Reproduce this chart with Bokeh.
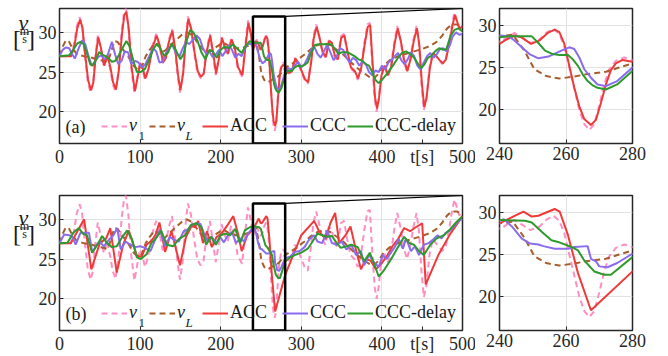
from bokeh.plotting import figure
from bokeh.models import Range1d, FixedTicker, Label, Legend, LegendItem, LinearAxis
from bokeh.layouts import column, row
from bokeh.embed import file_html
from bokeh.resources import INLINE

FONT = "Liberation Serif"
C_V1 = "#ff8ec3"
C_VL = "#a85e2c"
C_ACC = "#f03a3a"
C_CCC = "#8a6cee"
C_CCCD = "#2e9a2e"
TXT = "#1a1a1a"

MAIN_X = (0, 500)
MAIN_Y = (16, 33)
ZOOM_X = (240, 280)
ZOOM_Y = (16, 32)
MAIN_XTICKS = [0, 100, 200, 300, 400, 500]
ZOOM_XTICKS = [240, 260, 280]
YTICKS = [20, 25, 30]
XLABEL_AT = 450
XLABEL = "t[s]"
LABELS = ["v", "v", "ACC", "CCC", "CCC-delay"]
SUBS = ["1", "L"]
PANEL_TAGS = ["(a)", "(b)"]

V1 = [(0, 27.0), (14, 27.0), (18, 28.5), (21.5, 30.8), (25, 31.9), (28, 30.8), (31, 27.5), (35, 23.8),
      (38.5, 22.4), (41.5, 23.5), (44.5, 27.0), (47.5, 29.6), (51, 28.0), (55, 25.7), (59, 27.2), (63, 25.3),
      (66, 23.5), (69.5, 22.5), (73, 25.0), (77, 30.0), (80, 32.5), (82.5, 33.0), (85.5, 30.5), (89, 25.5),
      (93, 22.3), (96, 24.0), (99.5, 26.2), (102.5, 25.6), (106, 24.0), (110, 25.3), (115, 28.2), (120, 29.8),
      (124, 28.4), (128, 26.1), (131.5, 26.7), (135.5, 29.0), (139.5, 30.4), (143, 28.0), (146.5, 24.5),
      (149.5, 22.4), (153, 24.8), (156, 29.0), (159.3, 32.0), (163, 30.6), (167, 27.5), (171, 25.0), (175, 24.2),
      (178.5, 24.6), (182, 27.5), (186.5, 29.8), (190, 27.5), (193.8, 24.6), (197, 26.5), (201, 29.4), (205, 28.0),
      (208.5, 27.2), (213, 29.2), (217, 28.0), (221, 25.5), (226.5, 24.4), (230, 28.0), (233.8, 31.5), (237, 30.0),
      (240, 28.0), (242, 28.5), (244.5, 29.1), (247, 28.5), (249.3, 27.9), (252, 28.3), (254, 29.1), (256.2, 29.6),
      (258, 29.0), (259.5, 27.5), (261, 25.0), (262.5, 22.5), (264, 20.0), (265.5, 18.3), (267, 17.6), (268.5, 18.3),
      (270, 20.5), (271.5, 23.0), (273, 24.8), (275, 25.8), (277.5, 26.2), (280, 25.9), (284, 24.8), (288, 25.0),
      (292, 26.8), (296, 26.2), (300, 25.0), (304, 24.0), (308, 23.5), (312, 26.5), (315, 29.5), (318.5, 31.0),
      (322, 29.5), (326, 27.5), (330, 26.8), (334, 29.0), (337.5, 28.8), (341, 27.0), (345, 26.5), (349, 29.5),
      (353, 29.8), (357, 27.5), (361, 25.5), (366, 25.0), (370, 24.0), (374, 25.5), (378, 28.5), (382, 31.0),
      (385, 31.2), (388, 26.0), (391, 21.5), (393.5, 20.0), (396, 21.5), (399, 24.5), (403, 25.8), (407, 24.5),
      (411, 25.5), (415, 28.5), (419, 30.8), (423, 29.0), (427, 26.5), (431, 25.0), (435, 26.5), (439, 29.0),
      (443, 30.8), (446, 28.5), (449, 23.5), (452, 20.2), (455, 21.5), (459, 25.5), (463, 27.5), (467, 27.0),
      (471, 26.5), (475, 26.0), (479, 26.5), (483, 28.5), (487, 31.0), (490, 32.5), (493, 31.5), (496, 30.5),
      (500, 31.0)]

VL = [(0, 27.0), (4, 28.2), (8, 29.0), (12, 28.8), (16, 28.0), (22, 27.2), (30, 27.0), (40, 26.8), (50, 26.5),
      (60, 26.3), (64, 27.5), (68, 28.9), (72, 28.8), (76, 28.2), (85, 27.0), (92, 25.8), (97, 25.3), (102, 25.6),
      (107, 27.0), (112, 27.8), (118, 28.6), (124, 28.2), (130, 27.6), (136, 28.2), (144, 29.0), (152, 29.7),
      (158, 30.0), (165, 29.6), (172, 28.6), (180, 27.6), (187, 27.6), (195, 28.2), (203, 28.7), (210, 28.3),
      (218, 28.0), (226, 28.0), (234, 28.3), (240, 28.7), (244, 28.9), (247.5, 27.0), (250.5, 24.8), (254, 24.0),
      (258, 23.7), (262, 23.9), (266, 24.2), (272, 24.5), (276, 25.0), (280, 25.5), (288, 26.0), (296, 26.6),
      (304, 27.2), (312, 27.9), (320, 28.4), (328, 28.6), (336, 28.4), (344, 27.8), (352, 27.2), (360, 26.4),
      (368, 25.6), (376, 25.0), (384, 24.4), (390, 24.2), (396, 24.8), (402, 25.8), (410, 26.5), (420, 27.0),
      (430, 27.3), (440, 27.6), (450, 27.9), (460, 28.3), (468, 28.8), (475, 29.6), (481, 30.5), (487, 31.0),
      (493, 31.0), (500, 30.6)]

ACC_A = [(0, 27.0), (14.5, 27.0), (18.5, 28.3), (22, 30.5), (25.5, 31.6), (28.5, 30.6), (31.5, 27.5), (35.5, 24.0),
         (39, 22.7), (42, 23.7), (45, 27.0), (48, 29.4), (51.5, 28.0), (55.5, 25.8), (59.5, 27.1), (63.5, 25.4),
         (66.5, 23.7), (70, 22.8), (73.5, 25.1), (77.5, 29.8), (80.5, 32.2), (83, 32.6), (86, 30.4), (89.5, 25.6),
         (93.5, 22.6), (96.5, 24.1), (100, 26.1), (103, 25.6), (106.5, 24.2), (110.5, 25.4), (115.5, 28.1),
         (120.5, 29.6), (124.5, 28.3), (128.5, 26.2), (132, 26.8), (136, 28.9), (140, 30.2), (143.5, 28.0),
         (147, 24.7), (150, 22.7), (153.5, 24.9), (156.5, 28.9), (159.8, 31.7), (163.5, 30.4), (167.5, 27.5),
         (171.5, 25.1), (175.5, 24.4), (179, 24.8), (182.5, 27.5), (187, 29.6), (190.5, 27.5), (194.3, 24.8),
         (197.5, 26.5), (201.5, 29.3), (205.5, 28.0), (209, 27.3), (213.5, 29.1), (217.5, 28.0), (221.5, 25.6),
         (227, 24.6), (230.5, 28.0), (234.3, 31.2), (237.5, 29.8), (240, 27.8), (242, 28.3), (244.5, 28.8),
         (246.5, 28.6), (249.5, 27.8), (252, 28.2), (254.5, 29.1), (256.6, 29.5), (258, 29.2), (259.5, 27.8),
         (261, 25.2), (262.5, 22.6), (264, 20.4), (265.5, 18.9), (267.5, 18.2), (269, 18.8), (270.5, 20.8),
         (272, 23.0), (273.5, 24.7), (275, 25.5), (277, 25.9), (280, 25.7), (284.5, 24.9), (288.5, 25.1),
         (292.5, 26.7), (296.5, 26.1), (300.5, 25.1), (304.5, 24.1), (308.5, 23.7), (312.5, 26.4), (315.5, 29.3),
         (319, 30.7), (322.5, 29.4), (326.5, 27.5), (330.5, 26.9), (334.5, 28.9), (338, 28.7), (341.5, 27.1),
         (345.5, 26.6), (349.5, 29.3), (353.5, 29.6), (357.5, 27.5), (361.5, 25.6), (366.5, 25.1), (370.5, 24.2),
         (374.5, 25.6), (378.5, 28.4), (382.5, 30.7), (385.5, 30.9), (388.5, 26.1), (391.5, 21.8), (394, 20.4),
         (396.5, 21.8), (399.5, 24.6), (403.5, 25.8), (407.5, 24.6), (411.5, 25.6), (415.5, 28.4), (419.5, 30.5),
         (423.5, 28.9), (427.5, 26.6), (431.5, 25.1), (435.5, 26.6), (439.5, 28.9), (443.5, 30.5), (446.5, 28.4),
         (449.5, 23.7), (452.5, 20.6), (455.5, 21.8), (459.5, 25.5), (463.5, 27.4), (467.5, 27.0), (471.5, 26.5),
         (475.5, 26.1), (479.5, 26.6), (483.5, 28.5), (487.5, 30.8), (490.5, 32.2), (493.5, 31.3), (496.5, 30.4),
         (500, 30.8)]

CCC_A = [(0, 27.0), (4, 27.8), (8, 28.1), (12, 28.0), (16, 27.2), (19, 26.7), (23, 27.8), (28, 29.0), (32, 28.5),
         (36, 27.0), (40, 25.8), (44, 26.3), (48, 26.9), (52, 27.1), (56, 26.6), (60, 27.2), (65, 28.8), (69, 27.2),
         (73, 26.0), (77, 26.4), (81, 27.6), (85, 27.5), (89, 26.0), (94, 26.4), (98, 26.2), (102, 25.6), (106, 25.9),
         (111, 26.9), (116, 28.0), (120, 27.6), (124, 26.2), (128, 26.3), (132, 27.4), (136, 28.0), (140, 28.4),
         (145, 27.3), (149, 27.0), (153, 28.0), (157, 28.8), (161, 28.5), (165, 29.0), (170, 29.6), (174, 29.2),
         (178, 28.0), (182, 27.3), (186, 27.6), (190, 26.9), (194, 27.2), (198, 27.8), (202, 27.0), (206, 27.6),
         (210, 28.4), (214, 27.8), (218, 26.8), (222, 27.3), (226, 27.0), (230, 28.0), (234, 28.6), (238, 28.5),
         (240, 28.8), (242.8, 28.7), (244.5, 28.2), (246.7, 27.4), (249, 26.6), (251.7, 26.1), (254.7, 26.3),
         (258.6, 27.0), (261, 27.4), (262.5, 27.2), (264, 26.2), (265.5, 24.8), (267.5, 23.8), (269.5, 23.0),
         (272, 22.8), (275.4, 23.4), (280, 25.0), (284, 25.5), (288, 25.3), (292, 25.8), (296, 26.3), (300, 25.6),
         (304, 26.0), (308, 26.8), (312, 27.8), (316, 28.2), (320, 27.3), (324, 26.8), (328, 27.6), (332, 28.4),
         (336, 27.5), (340, 26.5), (344, 27.0), (348, 28.0), (352, 27.8), (356, 26.8), (360, 26.2), (364, 26.8),
         (368, 26.5), (372, 25.8), (376, 26.3), (380, 26.0), (384, 25.0), (388, 24.6), (392, 25.2), (396, 25.0),
         (400, 25.8), (404, 25.3), (408, 26.2), (412, 26.5), (416, 27.0), (420, 27.4), (424, 26.5), (428, 26.0),
         (432, 26.6), (436, 27.5), (440, 27.0), (444, 25.8), (448, 25.3), (452, 26.2), (456, 27.0), (460, 27.4),
         (464, 26.8), (468, 27.2), (472, 27.9), (476, 28.0), (480, 27.6), (484, 28.3), (488, 29.5), (492, 30.0),
         (496, 29.7), (500, 29.8)]

CCCD_A = [(0, 27.0), (12, 27.1), (17, 27.8), (22, 28.6), (26, 28.8), (30, 28.5), (34, 27.4), (38, 26.0), (41, 25.8),
          (45, 26.5), (49, 27.5), (53, 27.2), (57, 27.0), (61, 26.7), (65, 26.3), (69, 26.4), (73, 27.0), (78, 28.0),
          (83, 28.9), (87, 28.2), (92, 26.3), (96, 25.0), (101, 25.0), (106, 25.4), (111, 26.5), (116, 27.8),
          (121, 28.6), (125, 28.0), (130, 27.0), (135, 27.5), (139, 28.6), (144, 27.8), (150, 26.6), (154, 27.3),
          (158, 29.0), (162, 30.3), (166, 30.0), (171, 29.0), (176, 27.5), (181, 26.6), (186, 27.8), (190, 27.6),
          (195, 26.8), (200, 27.8), (205, 28.2), (210, 28.0), (215, 28.5), (220, 28.0), (226, 27.4), (231, 28.3),
          (236, 28.9), (240, 28.6), (243, 28.7), (247, 28.7), (249.7, 28.7), (251.5, 28.0), (253.7, 27.0),
          (256, 26.6), (258, 26.5), (260.6, 26.5), (262, 26.0), (263.6, 25.2), (265, 24.2), (266.5, 23.4),
          (268, 22.9), (269.5, 22.6), (272, 22.4), (275.4, 23.0), (278, 23.9), (280, 24.6), (284, 25.2), (288, 25.1),
          (292, 25.6), (296, 25.8), (300, 25.7), (304, 25.9), (308, 26.2), (312, 27.4), (317, 28.4), (322, 28.5),
          (327, 28.5), (332, 28.5), (337, 28.5), (341, 28.0), (346, 27.3), (351, 27.5), (356, 27.5), (361, 27.3),
          (366, 27.0), (371, 26.6), (376, 26.4), (380, 26.0), (384, 25.8), (388, 25.0), (392, 24.0), (396, 23.6),
          (400, 24.0), (405, 24.6), (410, 25.3), (415, 26.0), (420, 26.8), (425, 27.4), (430, 27.6), (435, 27.3),
          (440, 26.8), (445, 26.0), (449, 25.5), (453, 26.0), (457, 26.8), (461, 27.0), (466, 27.6), (471, 28.0),
          (476, 27.8), (480, 27.9), (485, 29.5), (490, 30.3), (495, 30.5), (500, 30.1)]

ACC_B = [(0, 27.0), (14, 27.0), (30.5, 30.0), (39.5, 23.7), (50, 27.0), (58, 27.6), (63, 28.9), (71, 23.3),
         (79, 26.8), (86, 28.6), (91, 27.0), (96, 25.4), (102, 25.3), (108, 26.8), (114, 27.3), (119, 28.0),
         (124, 29.6), (131, 25.9), (139, 28.5), (149.5, 24.2), (157, 27.8), (164, 29.2), (168, 29.0), (172, 29.8),
         (178, 27.0), (183, 28.5), (189, 26.5), (195, 27.8), (201, 28.2), (208, 29.2), (215.6, 30.4), (222, 28.0),
         (226, 26.0), (233, 28.0), (240, 28.7), (247.2, 30.1), (249.7, 29.5), (251.7, 29.6), (256.6, 30.4),
         (258.1, 30.1), (260.6, 27.3), (263.6, 22.8), (267.5, 18.4), (280, 23.0), (300, 28.0), (316, 29.8),
         (322, 28.5), (330, 27.5), (336, 29.5), (342, 30.8), (347, 27.0), (355, 28.0), (361, 29.1), (367, 26.5),
         (374, 23.7), (380, 25.0), (386, 24.8), (392.6, 23.7), (400, 24.5), (407, 25.5), (413, 26.6), (420, 27.5),
         (427.6, 28.9), (435, 28.5), (442, 29.0), (450, 29.5), (454.4, 21.8), (470, 25.5), (485, 28.2), (500, 30.4)]

CCC_B = [(0, 27.0), (5.8, 28.1), (12, 28.0), (16, 27.8), (20, 26.8), (26, 28.3), (33, 28.3), (36.6, 28.3),
         (40.7, 25.8), (46, 26.8), (50, 27.2), (55, 26.6), (62, 27.5), (67, 28.0), (71.6, 28.9), (76, 26.2),
         (82, 27.2), (88, 26.8), (94, 26.5), (100, 26.6), (106, 26.4), (112.8, 26.0), (119, 27.5), (125, 28.7),
         (131, 26.6), (137, 27.8), (142, 27.4), (148, 27.2), (154, 28.5), (159, 28.7), (164, 29.3), (170, 29.5),
         (175, 29.4), (180, 28.0), (184, 27.2), (189, 27.8), (194, 26.9), (199, 27.8), (204, 27.1), (209, 28.0),
         (214, 28.4), (219, 27.0), (224, 27.6), (229, 27.2), (234, 28.2), (240, 29.0), (241.3, 29.2), (243.8, 28.3),
         (246.7, 26.9), (249.2, 26.3), (251.7, 26.2), (253.2, 26.0), (256.6, 25.7), (260.6, 25.7), (262.6, 25.9),
         (266.5, 26.0), (267.5, 24.5), (269, 24.2), (270, 23.6), (272.5, 23.5), (275.4, 24.0), (280, 25.1),
         (286, 25.3), (292, 25.9), (298, 26.0), (304, 26.5), (310, 27.5), (316, 28.0), (320, 27.2), (326, 27.0),
         (332, 28.6), (338, 27.0), (344, 26.8), (350, 27.2), (356, 26.2), (362, 26.8), (368, 25.5), (374, 26.0),
         (378, 24.2), (384, 25.5), (390, 24.6), (396, 24.0), (401, 25.5), (406, 25.0), (411, 25.8), (416, 26.5),
         (421, 27.5), (426, 26.3), (430, 27.6), (436, 26.0), (441, 26.6), (446, 25.5), (452, 26.8), (458, 27.0),
         (464, 27.5), (469, 28.0), (474, 27.6), (479, 28.3), (485, 28.6), (490, 29.2), (495, 29.8), (500, 30.0)]

CCCD_B = [(0, 27.0), (10, 27.05), (17, 28.3), (24, 28.9), (29, 28.2), (34, 28.0), (40.5, 25.8), (47, 26.8),
          (53, 27.9), (59, 27.0), (65, 26.5), (71, 26.6), (78, 27.8), (84, 28.6), (90, 27.5), (96, 25.2), (101, 25.0),
          (108, 25.6), (114, 27.0), (121, 27.8), (126, 28.6), (133, 26.8), (141, 26.6), (148, 27.5), (156, 28.0),
          (163, 29.3), (170, 29.5), (176, 29.0), (182, 26.8), (188, 27.8), (194, 26.8), (200, 28.0), (206, 28.2),
          (212, 28.0), (218, 28.8), (224, 27.0), (230, 28.6), (236, 29.0), (240, 29.1), (247.7, 29.0), (249.7, 28.8),
          (252.7, 27.7), (255.6, 26.7), (257.6, 26.5), (261.6, 25.9), (263.6, 25.5), (265.5, 24.3), (268.5, 23.0),
          (271.5, 22.6), (273.5, 22.6), (280, 24.7), (286, 25.2), (292, 25.5), (300, 25.8), (308, 26.3), (314, 27.2),
          (320, 28.2), (326, 28.0), (332, 27.8), (338, 27.9), (344, 27.0), (349, 26.4), (356, 26.6), (362, 26.8),
          (370, 26.5), (378, 24.7), (385, 25.8), (390, 24.5), (396, 22.8), (402, 23.5), (411, 24.9), (420, 26.5),
          (427.6, 27.8), (434, 27.0), (440, 26.8), (446, 26.0), (452, 25.5), (460, 26.8), (468, 27.6), (477, 28.0),
          (485, 28.8), (492, 29.6), (500, 30.4)]

# ---------------- layout constants (pixels) ----------------
W_LAB = 35                     # strip holding the y-axis label
W_MAIN, W_ZOOM = 440, 193
L_MAIN, R_MAIN = 22, 13
L_ZOOM, R_ZOOM = 22, 36
ROWS = [dict(h=175, top=8, bottom=32), dict(h=181, top=20, bottom=26)]


def xy(pairs):
    return [a for a, _ in pairs], [b for _, b in pairs]


def style(p, xticks):
    xa, ya = p.below[0], p.left[0]
    xa.ticker = FixedTicker(ticks=xticks)
    ya.ticker = FixedTicker(ticks=YTICKS)
    for ax in (xa, ya):
        ax.major_label_text_font = FONT
        ax.major_label_text_font_size = "18px"
        ax.major_label_text_color = "#262626"
        ax.axis_line_color = None
        ax.major_tick_in = 4
        ax.major_tick_out = 0
        ax.major_tick_line_color = "#262626"
        ax.minor_tick_line_color = None
        ax.major_label_standoff = 3
    p.xgrid.ticker = FixedTicker(ticks=xticks)
    p.ygrid.ticker = FixedTicker(ticks=YTICKS)
    p.grid.grid_line_color = "#e2e2e2"
    p.grid.grid_line_width = 1
    p.outline_line_color = "#262626"
    p.outline_line_width = 1.5
    p.background_fill_color = "white"
    p.border_fill_color = "white"
    return xa, ya


def draw_series(p, series):
    rs = []
    specs = [(C_V1, "6 4"), (C_VL, "6 4"), (C_ACC, "solid"), (C_CCC, "solid"), (C_CCCD, "solid")]
    for pairs, (col, dash) in zip(series, specs):
        x, y = xy(pairs)
        rs.append(p.line(x, y, line_color=col, line_width=2, line_dash=dash))
    return rs


def lab(p, text, x, y, size="18px", style_="normal", align="left", baseline="middle", units="screen"):
    p.add_layout(Label(x=x, y=y, x_units=units, y_units=units, text=text, text_font=FONT,
                       text_font_size=size, text_font_style=style_, text_align=align,
                       text_baseline=baseline, text_color=TXT))


def edge_axis(p, side, lo, hi):
    ax = LinearAxis(ticker=FixedTicker(ticks=[]), bounds=(lo, hi))
    ax.axis_line_color = "black"
    ax.axis_line_width = 1.2
    ax.major_tick_in = 0
    ax.major_tick_out = 0
    ax.major_tick_line_color = None
    ax.minor_tick_line_color = None
    ax.major_label_standoff = 0
    p.add_layout(ax, side)


def label_strip(h, top):
    s = figure(width=W_LAB, height=h, x_range=Range1d(0, W_LAB), y_range=Range1d(0, h),
               x_axis_type=None, y_axis_type=None, output_backend="svg", toolbar_location=None,
               min_border=0, min_border_left=0, min_border_right=0, min_border_top=0, min_border_bottom=0)
    s.outline_line_color = None
    s.background_fill_color = "white"
    s.border_fill_color = "white"
    # (text, x centre, baseline below frame top, size, style)
    parts = [("v", 23, 10, "22px", "italic"), ("m", 24, 21, "12px", "normal"), ("s", 24, 32, "12px", "normal"),
             ("[", 16.5, 31, "24px", "normal"), ("]", 30.5, 31, "24px", "normal")]
    for text, x, dy, size, st in parts:
        lab(s, text, x, h - (top + dy), size=size, style_=st, align="center", baseline="alphabetic",
            units="data")
    bar_y = h - (top + 23.5)
    s.segment(x0=[19.5], y0=[bar_y], x1=[28.5], y1=[bar_y], line_color=TXT, line_width=0.8)
    return s


figs = []
for i, (acc, ccc, cccd) in enumerate([(ACC_A, CCC_A, CCCD_A), (ACC_B, CCC_B, CCCD_B)]):
    g = ROWS[i]
    series = [V1, VL, acc, ccc, cccd]
    fw = W_MAIN - L_MAIN - R_MAIN
    sx = (MAIN_X[1] - MAIN_X[0]) / fw
    p = figure(width=W_MAIN, height=g["h"], x_range=Range1d(*MAIN_X), y_range=Range1d(*MAIN_Y),
               output_backend="svg", toolbar_location=None,
               min_border_left=L_MAIN, min_border_right=R_MAIN,
               min_border_top=g["top"], min_border_bottom=g["bottom"])
    xa, ya = style(p, MAIN_XTICKS)
    xa.ticker = FixedTicker(ticks=MAIN_XTICKS + [XLABEL_AT])
    xa.major_label_overrides = {XLABEL_AT: XLABEL}
    p.xgrid.ticker = FixedTicker(ticks=MAIN_XTICKS)
    rs = draw_series(p, series)

    p.quad(left=[ZOOM_X[0]], right=[ZOOM_X[1]], bottom=[ZOOM_Y[0]], top=[ZOOM_Y[1]],
           fill_alpha=0, line_color="black", line_width=2.5)
    p.segment(x0=[ZOOM_X[1]], y0=[ZOOM_Y[1]], x1=[MAIN_X[1]], y1=[MAIN_Y[1]], line_color="black", line_width=1.2)
    edge_axis(p, "above", MAIN_X[1], MAIN_X[1] + R_MAIN * sx)

    starts = [42, 90, 143, 223, 288]
    for k, (r, txt, x0) in enumerate(zip(rs, LABELS, starts)):
        lg = Legend(items=[LegendItem(label=txt, renderers=[r])], location=(x0, 7),
                    orientation="horizontal", label_text_font=FONT, label_text_font_size="18px",
                    label_text_font_style="italic" if k < 2 else "normal",
                    glyph_width=26, glyph_height=20, label_standoff=2, spacing=0, padding=0, margin=0,
                    border_line_color=None, background_fill_alpha=0, label_text_color=TXT)
        p.add_layout(lg)
    lab(p, SUBS[0], 79, 8, size="13px", baseline="alphabetic")
    lab(p, SUBS[1], 126, 8, size="13px", style_="italic", baseline="alphabetic")
    lab(p, PANEL_TAGS[i], 6, 17)

    z = figure(width=W_ZOOM, height=g["h"], x_range=Range1d(*ZOOM_X), y_range=Range1d(*ZOOM_Y),
               output_backend="svg", toolbar_location=None,
               min_border_left=L_ZOOM, min_border_right=R_ZOOM,
               min_border_top=g["top"], min_border_bottom=g["bottom"])
    style(z, ZOOM_XTICKS)
    draw_series(z, series)
    zsx = (ZOOM_X[1] - ZOOM_X[0]) / (W_ZOOM - L_ZOOM - R_ZOOM)
    edge_axis(z, "above", ZOOM_X[0] - L_ZOOM * zsx, ZOOM_X[0])
    figs.append(row(label_strip(g["h"], g["top"]), p, z))

layout = column(*figs)
open("out.html", "w").write(file_html(layout, INLINE))
